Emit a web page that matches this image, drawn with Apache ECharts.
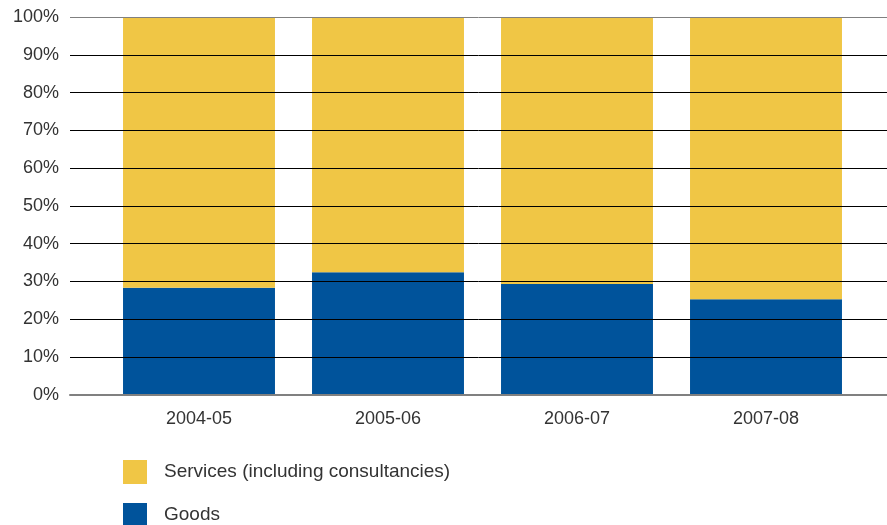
<!DOCTYPE html>
<html>
<head>
<meta charset="utf-8">
<script src="https://cdn.jsdelivr.net/npm/echarts@6/dist/echarts.min.js"></script>
<style>html,body{margin:0;padding:0;background:#fff}#c{width:887px;height:525px}</style>
</head>
<body>
<div id="c"></div>
<script>
const categories = ['2004-05', '2005-06', '2006-07', '2007-08'];
const goods = [28.3, 32.4, 29.3, 25.3];
const services = [71.7, 67.6, 70.7, 74.7];
const yTicks = [0, 10, 20, 30, 40, 50, 60, 70, 80, 90, 100];

const font = 'Liberation Sans, Arial, sans-serif';
const chart = echarts.init(document.getElementById('c'));
chart.setOption({
  animation: false,
  backgroundColor: '#fff',
  grid: [
    {left: 70, right: 0, top: 17, bottom: 130.3},
    {left: 104.5, right: 26.5, top: 17, bottom: 130.3}
  ],
  legend: {
    orient: 'vertical', left: 123, top: 460, height: 120, padding: 0,
    itemWidth: 24, itemHeight: 24, itemGap: 19, icon: 'rect',
    data: ['Services (including consultancies)', 'Goods'],
    textStyle: {fontFamily: font, fontSize: 19, color: '#333', padding: [0, 0, 0, 12]}
  },
  xAxis: [
    {type: 'category', gridIndex: 0, data: categories, position: 'bottom', z: 10,
     axisLine: {show: true, lineStyle: {color: '#808080', width: 2}}, axisTick: {show: false}, axisLabel: {show: false}},
    {type: 'category', gridIndex: 1, data: categories, position: 'bottom',
     axisLine: {show: false}, axisTick: {show: false},
     axisLabel: {fontFamily: font, fontSize: 18, color: '#333', margin: 15}}
  ],
  yAxis: [
    {type: 'value', gridIndex: 0, min: 0, max: 100, interval: 10, z: 10,
     axisLine: {show: false}, axisTick: {show: false},
     axisLabel: {fontFamily: font, fontSize: 18, color: '#333', margin: 11,
       formatter: v => yTicks.includes(v) ? v + '%' : ''},
     splitLine: {show: true, lineStyle: {width: 1,
       color: ['#808080', '#000', '#000', '#000', '#000', '#000', '#000', '#000', '#000', '#000', '#808080']}}},
    {type: 'value', gridIndex: 1, min: 0, max: 100, show: false, splitLine: {show: false}}
  ],
  series: [
    {name: 'Goods', type: 'bar', stack: 's', xAxisIndex: 1, yAxisIndex: 1, data: goods,
     barCategoryGap: '19.6%', itemStyle: {color: '#00539B'}},
    {name: 'Services (including consultancies)', type: 'bar', stack: 's', xAxisIndex: 1, yAxisIndex: 1, data: services,
     barCategoryGap: '19.6%', itemStyle: {color: '#F0C645'}}
  ]
});
</script>
</body>
</html>
